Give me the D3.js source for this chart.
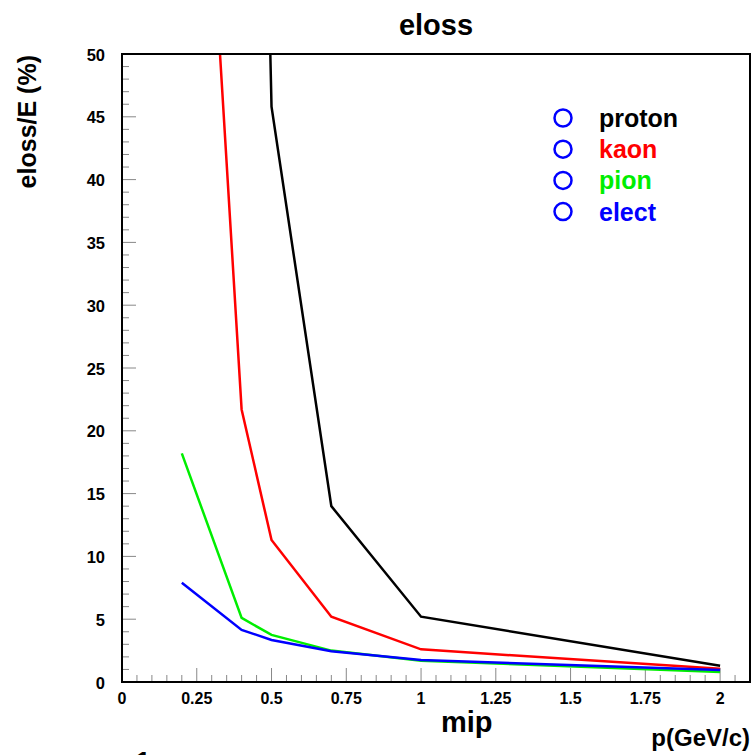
<!DOCTYPE html>
<html>
<head>
<meta charset="utf-8">
<script src="https://cdn.jsdelivr.net/npm/d3@7"></script>
<style>
  body { margin: 0; background: #fff; }
  svg { font-family: "Liberation Sans", Arial, Helvetica, sans-serif; font-weight: bold; }
</style>
</head>
<body>
<div id="chart"></div>
<script>
// momentum points (GeV/c)
const momenta = [0.2, 0.4, 0.5, 0.7, 1, 2];
// eloss/E (%) per particle
const proton = [500, 150, 45.8, 14.0, 5.2, 1.3];
const kaon = [100, 21.7, 11.3, 5.2, 2.6, 1.05];
const pion = [18.2, 5.1, 3.75, 2.5, 1.7, 0.8];
const elect = [7.9, 4.15, 3.35, 2.45, 1.75, 0.95];

const seriesNames = ["proton", "kaon", "pion", "elect"];
const seriesValues = [proton, kaon, pion, elect];
const seriesColors = ["#000000", "#ff0000", "#00ee00", "#0000ff"];

const xTicks = [0, 0.25, 0.5, 0.75, 1, 1.25, 1.5, 1.75, 2];
const yTicks = [0, 5, 10, 15, 20, 25, 30, 35, 40, 45, 50];

const width = 753, height = 755;
const plotL = 122, plotR = 750, plotT = 54, plotB = 682;

const svg = d3.select("#chart").append("svg")
    .attr("width", width)
    .attr("height", height);

const x = d3.scaleLinear().domain([0, 2.1]).range([plotL, plotR]);
const y = d3.scaleLinear().domain([0, 50]).range([plotB, plotT]);

svg.append("clipPath").attr("id", "plotclip")
    .append("rect")
    .attr("x", plotL).attr("y", plotT)
    .attr("width", plotR - plotL).attr("height", plotB - plotT);

// minor ticks
const xMinor = d3.range(0, 2.1001, 0.05).filter(v => Math.abs(v / 0.25 - Math.round(v / 0.25)) > 1e-6);
const yMinor = d3.range(0, 50.001, 1).filter(v => v % 5 !== 0);

svg.append("g").selectAll("line")
    .data(xMinor).enter().append("line")
    .attr("x1", d => x(d)).attr("x2", d => x(d))
    .attr("y1", plotB).attr("y2", plotB - 7)
    .attr("stroke", "#888").attr("stroke-width", 1);

svg.append("g").selectAll("line")
    .data(xTicks).enter().append("line")
    .attr("x1", d => x(d)).attr("x2", d => x(d))
    .attr("y1", plotB).attr("y2", plotB - 14)
    .attr("stroke", "#888").attr("stroke-width", 1);

svg.append("g").selectAll("line")
    .data(yMinor).enter().append("line")
    .attr("x1", plotL).attr("x2", plotL + 7)
    .attr("y1", d => y(d)).attr("y2", d => y(d))
    .attr("stroke", "#888").attr("stroke-width", 1);

svg.append("g").selectAll("line")
    .data(yTicks).enter().append("line")
    .attr("x1", plotL).attr("x2", plotL + 14)
    .attr("y1", d => y(d)).attr("y2", d => y(d))
    .attr("stroke", "#888").attr("stroke-width", 1);

// tick labels
svg.append("g").selectAll("text")
    .data(xTicks).enter().append("text")
    .attr("x", d => x(d))
    .attr("y", 704)
    .attr("text-anchor", "middle")
    .style("font-size", "16px")
    .text(d => d);

svg.append("g").selectAll("text")
    .data(yTicks).enter().append("text")
    .attr("x", 105)
    .attr("y", d => y(d) + 6.5)
    .attr("text-anchor", "end")
    .style("font-size", "16.5px")
    .text(d => d);

// lines
const line = d3.line()
    .x((d, i) => x(momenta[i]))
    .y(d => y(d));

svg.append("g").attr("clip-path", "url(#plotclip)")
    .selectAll("path")
    .data(seriesValues).enter().append("path")
    .attr("d", d => line(d))
    .attr("fill", "none")
    .attr("stroke", (d, i) => seriesColors[i])
    .attr("stroke-width", 2.5);

// frame
svg.append("rect")
    .attr("x", plotL).attr("y", plotT)
    .attr("width", plotR - plotL).attr("height", plotB - plotT)
    .attr("fill", "none")
    .attr("stroke", "black")
    .attr("stroke-width", 2);

// legend
const legend = svg.append("g").selectAll("g")
    .data(seriesNames).enter().append("g")
    .attr("transform", (d, i) => `translate(0, ${118 + i * 31.2})`);

legend.append("circle")
    .attr("cx", 563).attr("cy", 0).attr("r", 8.5)
    .attr("fill", "none")
    .attr("stroke", "#0000ff")
    .attr("stroke-width", 2.5);

legend.append("text")
    .attr("x", 599).attr("y", 9)
    .style("font-size", "25px")
    .attr("fill", (d, i) => seriesColors[i])
    .text(d => d);

// titles
svg.append("text")
    .attr("x", 436).attr("y", 35)
    .attr("text-anchor", "middle")
    .style("font-size", "29px")
    .text("eloss");

svg.append("text")
    .attr("transform", "translate(36, 55) rotate(-90)")
    .attr("text-anchor", "end")
    .style("font-size", "25px")
    .text("eloss/E (%)");

svg.append("text")
    .attr("x", 441).attr("y", 732)
    .style("font-size", "29px")
    .text("mip");

svg.append("text")
    .attr("x", 750).attr("y", 746)
    .attr("text-anchor", "end")
    .style("font-size", "24px")
    .text("p(GeV/c)");

svg.append("text")
    .attr("x", 136).attr("y", 770)
    .style("font-size", "26px")
    .text("1");
</script>
</body>
</html>
